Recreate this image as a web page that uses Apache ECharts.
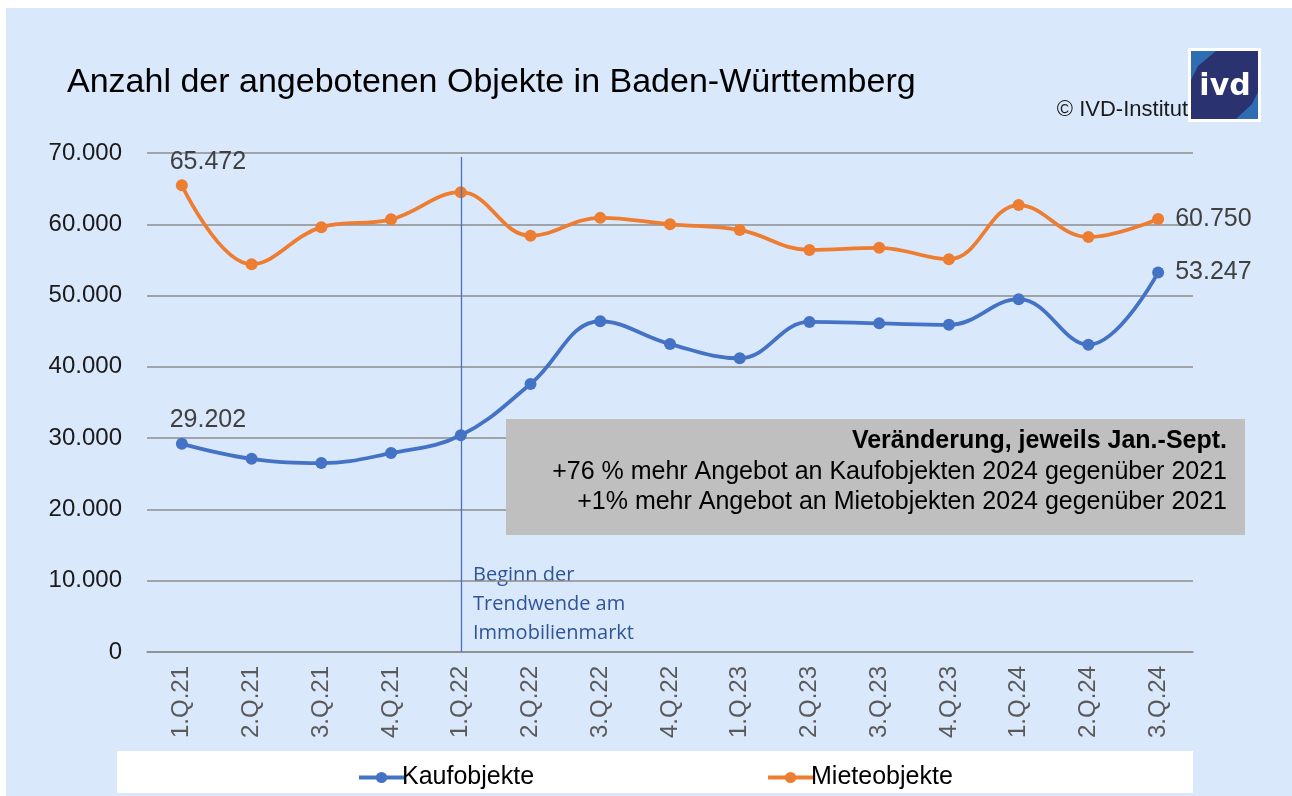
<!DOCTYPE html>
<html>
<head>
<meta charset="utf-8">
<script src="https://cdn.jsdelivr.net/npm/echarts@6/dist/echarts.min.js"></script>
<style>
  html, body { margin: 0; padding: 0; background: #fff; }
  #main { width: 1292px; height: 796px; }
</style>
</head>
<body>
<div id="main"></div>
<script>
// Quartale
var quartale = ['1.Q.21', '2.Q.21', '3.Q.21', '4.Q.21', '1.Q.22', '2.Q.22', '3.Q.22', '4.Q.22',
  '1.Q.23', '2.Q.23', '3.Q.23', '4.Q.23', '1.Q.24', '2.Q.24', '3.Q.24']
// Kaufobjekte (Anzahl)
var kaufobjekte = [29202, 27100, 26500, 27900, 30400, 37600, 46400, 43200,
  41200, 46300, 46100, 45900, 49500, 43100, 53247]
// Mieteobjekte (Anzahl)
var mieteobjekte = [65472, 54400, 59600, 60700, 64500, 58400, 60900, 60000,
  59200, 56400, 56700, 55100, 62700, 58200, 60750]
var yTicks = [0, 10000, 20000, 30000, 40000, 50000, 60000, 70000]
var trendwende = '1.Q.22'
var boxLines = ['Veränderung, jeweils Jan.-Sept.',
  '+76 % mehr Angebot an Kaufobjekten 2024 gegenüber 2021',
  '+1% mehr Angebot an Mietobjekten 2024 gegenüber 2021']

function fmt (v) {
  return v.toLocaleString('de-DE')
}

// nur erster und letzter Punkt bekommen ein Label
function withLabels (arr) {
  return arr.map(function (v, i) {
    if (i === 0) {
      return { value: v, label: { show: true, position: 'top', distance: 5, offset: [26, 0] } }
    }
    if (i === arr.length - 1) {
      return { value: v, label: { show: true, position: 'right', distance: 11 } }
    }
    return v
  })
}

var chart = echarts.init(document.getElementById('main'))
var font = 'Liberation Sans, Arial, sans-serif'

var option = {
  backgroundColor: '#ffffff',
  animation: false,
  textStyle: { fontFamily: font },
  grid: { left: 147, right: 99, top: 153, bottom: 144 },
  graphic: [
    // hellblaue Fläche
    { type: 'rect', z: -10, shape: { x: 6, y: 8, width: 1286, height: 788 }, style: { fill: '#dae8fc' } },
    // Legendenfläche
    { type: 'rect', z: -9, shape: { x: 117, y: 751, width: 1076, height: 42 }, style: { fill: '#ffffff' } },
    // Titel
    { type: 'text', left: 67, top: 66, style: { text: 'Anzahl der angebotenen Objekte in Baden-Württemberg', font: '34px ' + font, fill: '#000' } },
    { type: 'text', x: 1188, y: 110, style: { text: '© IVD-Institut', font: '22px ' + font, fill: '#1a1a1a', align: 'right', verticalAlign: 'middle' } },
    // Logo
    { type: 'rect', shape: { x: 1188, y: 48, width: 73, height: 74 }, style: { fill: '#ffffff' } },
    { type: 'rect', shape: { x: 1191, y: 51, width: 67, height: 68 }, style: { fill: '#2b3270' } },
    { type: 'polygon', shape: { points: [[1191, 51], [1216, 51], [1198, 66], [1191, 80]] }, style: { fill: '#2f6db3' } },
    { type: 'polygon', shape: { points: [[1258, 119], [1236, 119], [1252, 104], [1258, 92]] }, style: { fill: '#2f6db3' } },
    { type: 'text', x: 1225, y: 87, style: { text: 'ivd', font: 'bold 30px DejaVu Sans, sans-serif', fill: '#ffffff', align: 'center', verticalAlign: 'middle' } },
    // Textfeld
    { type: 'rect', z: 100, shape: { x: 506, y: 419, width: 739, height: 116 }, style: { fill: '#bfbfbf' } },
    { type: 'text', z: 101, x: 1227, y: 441, style: { text: boxLines[0], font: 'bold 25px ' + font, fill: '#000', align: 'right', verticalAlign: 'middle' } },
    { type: 'text', z: 101, x: 1227, y: 472, style: { text: boxLines[1], font: '25px ' + font, fill: '#000', align: 'right', verticalAlign: 'middle' } },
    { type: 'text', z: 101, x: 1227, y: 502, style: { text: boxLines[2], font: '25px ' + font, fill: '#000', align: 'right', verticalAlign: 'middle' } },
    // Trendwende Beschriftung
    { type: 'text', left: 473, top: 561, style: { text: 'Beginn der\nTrendwende am\nImmobilienmarkt', font: '20px Open Sans, sans-serif', lineHeight: 29, fill: '#2f5597' } }
  ],
  legend: {
    left: 352,
    top: 760,
    itemWidth: 45,
    itemHeight: 14,
    itemGap: 232,
    lineStyle: { width: 4 },
    textStyle: { fontSize: 25, color: '#000', fontFamily: font, padding: [0, 0, 0, -7] },
    data: ['Kaufobjekte', 'Mieteobjekte']
  },
  xAxis: {
    type: 'category',
    data: quartale,
    boundaryGap: true,
    axisLine: { lineStyle: { color: '#8c8c8c', width: 1.5 } },
    axisTick: { show: false },
    axisLabel: { rotate: 90, color: '#595959', fontSize: 24, margin: 14, fontFamily: font }
  },
  yAxis: {
    type: 'value',
    min: yTicks[0],
    max: yTicks[yTicks.length - 1],
    interval: 10000,
    axisLine: { show: false },
    axisTick: { show: false },
    axisLabel: { color: '#1a1a1a', fontSize: 24, margin: 25, fontFamily: font, formatter: function (v) { return fmt(v) } },
    splitLine: { lineStyle: { color: '#8c8c8c', width: 1.5 } }
  },
  series: [
    {
      name: 'Kaufobjekte',
      type: 'line',
      smooth: 0.4,
      data: withLabels(kaufobjekte),
      symbol: 'circle',
      symbolSize: 12,
      itemStyle: { color: '#4472c4' },
      lineStyle: { color: '#4472c4', width: 3.8 },
      label: { color: '#404040', fontSize: 25, fontFamily: font, formatter: function (p) { return fmt(p.value) } },
      markLine: {
        silent: true,
        symbol: 'none',
        label: { show: false },
        itemStyle: { color: '#4472c4' },
        lineStyle: { color: '#4472c4', width: 1.3, type: 'solid', opacity: 1 },
        data: [[{ xAxis: trendwende, y: 157 }, { xAxis: trendwende, yAxis: 0 }]]
      }
    },
    {
      name: 'Mieteobjekte',
      type: 'line',
      smooth: 0.4,
      data: withLabels(mieteobjekte),
      symbol: 'circle',
      symbolSize: 12,
      itemStyle: { color: '#ed7d31' },
      lineStyle: { color: '#ed7d31', width: 3.8 },
      label: { color: '#404040', fontSize: 25, fontFamily: font, formatter: function (p) { return fmt(p.value) } }
    }
  ]
}

chart.setOption(option)
</script>
</body>
</html>
